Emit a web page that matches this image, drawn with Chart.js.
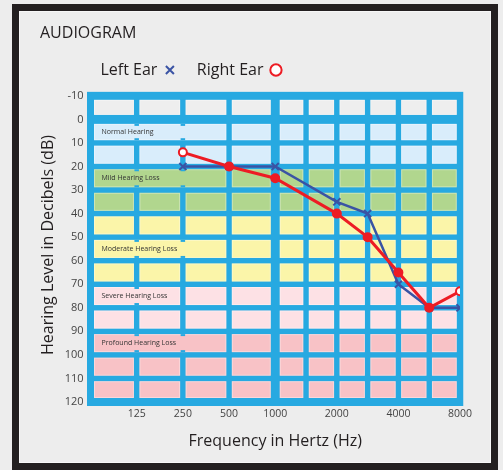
<!DOCTYPE html>
<html>
<head>
<meta charset="utf-8">
<script src="https://cdn.jsdelivr.net/npm/chart.js@4.4.1/dist/chart.umd.min.js"></script>
<style>
  html, body { margin: 0; padding: 0; background: #ededed; }
  #wrap { position: relative; width: 503px; height: 470px; overflow: hidden; }
  #frame {
    position: absolute; left: 12px; top: 4px; width: 472px; height: 452px;
    border: 7px solid #231f20; box-shadow: inset 0 0 0 1px #f7f7f7;
  }
  canvas { position: absolute; left: 0; top: 0; }
</style>
</head>
<body>
<div id="wrap">
  <div id="frame"></div>
  <canvas id="audiogram" width="503" height="470"></canvas>
</div>
<script>
// audiogram grid columns and labelled frequencies
const gridFreqs = [125, 250, 500, 1000, 1500, 2000, 3000, 4000, 6000, 8000];
const labeledFreqs = [125, 250, 500, 1000, 2000, 4000, 8000];
const yTicks = [-10, 0, 10, 20, 30, 40, 50, 60, 70, 80, 90, 100, 110, 120];

// measured thresholds (dB HL)
const testFreqs = [250, 500, 1000, 2000, 3000, 4000, 6000, 8000];
const rightEar = [14, 20, 25, 40, 50, 65, 80, 73];
const leftEar = [20, 20, 20, 35, 40, 70, 80, 80];

// hearing loss bands
const bandNames = ["Normal Hearing", "Mild Hearing Loss", "Moderate Hearing Loss", "Severe Hearing Loss", "Profound Hearing Loss"];
const bandFrom = [0, 20, 40, 70, 90];
const bandTo = [20, 40, 70, 90, 120];
const bandLabelRow = [0, 20, 50, 70, 90];

const bandColors = ["#d9edfb", "#b1d68e", "#fbf5a9", "#fde1e5", "#f8c2c6"];
const bandMergeTo = [500, 500, 500, 250, 500]; // label cell spans up to this grid line
const aboveColor = "#eeeeee";
const gridBlue = "#27a9e1";
const red = "#ed1c24";
const blue = "#3a53a4";
const legendGap = "   ";

// audiogram x layout: octaves below 1 kHz are 1.5 columns wide, one column per step above
function freqPos(f) {
  const i = gridFreqs.indexOf(f);
  return i <= 3 ? i * 1.5 : 4.5 + (i - 3);
}

const gridPlugin = {
  id: "audiogramGrid",
  beforeDatasetsDraw(chart) {
    const { ctx, scales: { x, y } } = chart;
    const xVals = [x.min].concat(gridFreqs.map(freqPos));
    const xs = xVals.map((v) => x.getPixelForValue(v));
    const ys = yTicks.map((v) => y.getPixelForValue(v));
    const nx = xs.length - 1, ny = ys.length - 1;
    const vw = xs.map((_, i) => (i === 0 ? 7 : i === nx ? 6.5 : gridFreqs[i - 1] === 1000 ? 9 : 5.5));
    const hw = yTicks.map((v, j) => (j === 0 || j === ny ? 8 : v === 0 ? 9 : 5.5));

    ctx.save();
    ctx.fillStyle = gridBlue;
    const L = xs[0] - vw[0] / 2, R = xs[nx] + vw[nx] / 2;
    const T = ys[0] - hw[0] / 2, B = ys[ny] + hw[ny] / 2;
    ctx.fillRect(L, T, R - L, B - T);

    for (let j = 0; j < ny; j++) {
      const v = yTicks[j];
      const band = bandFrom.findIndex((f, k) => v >= f && v < bandTo[k]);
      const top = ys[j] + hw[j] / 2;
      const bot = ys[j + 1] - hw[j + 1] / 2;
      const isLabel = band >= 0 && bandLabelRow[band] === v;
      let i = 0;
      while (i < nx) {
        let iEnd = i + 1;
        if (isLabel && i === 0) iEnd = gridFreqs.indexOf(bandMergeTo[band]) + 1;
        const left = xs[i] + vw[i] / 2;
        const right = xs[iEnd] - vw[iEnd] / 2;
        ctx.fillStyle = band >= 0 ? bandColors[band] : aboveColor;
        ctx.fillRect(left, top, right - left, bot - top);
        ctx.strokeStyle = "rgba(255,255,255,0.35)";
        ctx.lineWidth = 1;
        ctx.strokeRect(left + 0.5, top + 0.5, right - left - 1, bot - top - 1);
        // little stubs where hidden lines meet the merged cell
        ctx.fillStyle = gridBlue;
        for (let k = i + 1; k < iEnd; k++) {
          ctx.fillRect(xs[k] - vw[k] / 2 + 0.5, top, vw[k] - 1, 2);
          ctx.fillRect(xs[k] - vw[k] / 2 + 0.5, bot - 2, vw[k] - 1, 2);
        }
        i = iEnd;
      }
      if (isLabel) {
        ctx.fillStyle = "#333";
        ctx.font = "7px 'Open Sans', sans-serif";
        ctx.textAlign = "left";
        ctx.textBaseline = "middle";
        ctx.fillText(bandNames[band], xs[0] + vw[0] / 2 + 7.5, (top + bot) / 2);
      }
    }
    ctx.restore();
  },
};

Chart.defaults.font.family = "'Open Sans', sans-serif";

const ctx = document.getElementById("audiogram").getContext("2d");
const chart_audiogram = new Chart(ctx, {
  type: "line",
  data: {
    datasets: [
      {
        label: "Right Ear",
        data: testFreqs.map((f, i) => ({ x: freqPos(f), y: rightEar[i] })),
        borderColor: red,
        backgroundColor: "#fff",
        borderWidth: 3,
        fill: false,
        pointStyle: "circle",
        pointRadius: 4,
        pointBorderWidth: 2,
        pointBorderColor: red,
        pointBackgroundColor: (c) =>
          c.dataIndex === 0 || c.dataIndex === testFreqs.length - 1 ? "#fff" : red,
      },
      {
        label: "Left Ear",
        data: testFreqs.map((f, i) => ({ x: freqPos(f), y: leftEar[i] })),
        borderColor: blue,
        backgroundColor: blue,
        borderWidth: 2.5,
        fill: false,
        pointStyle: "crossRot",
        pointRadius: 5,
        pointBorderWidth: 2,
        pointBorderColor: blue,
      },
    ],
  },
  options: {
    responsive: false,
    animation: false,
    events: [],
    layout: { padding: { left: 40, right: 43, top: 0, bottom: 18.7 } },
    plugins: {
      tooltip: { enabled: false },
      title: {
        display: true,
        text: "AUDIOGRAM",
        align: "start",
        color: "#231f20",
        font: { size: 16, weight: "normal" },
        padding: { top: 23.4, bottom: 9.4 },
      },
      legend: {
        position: "top",
        fullSize: false,
        align: "end",
        rtl: true, // marker after the text, as on the original
        labels: {
          usePointStyle: true,
          boxWidth: 9,
          boxHeight: 8,
          padding: 10,
          color: "#231f20",
          font: { size: 16 },
          generateLabels(chart) {
            const items = Chart.defaults.plugins.legend.labels.generateLabels(chart);
            items.forEach((it, i) => {
              it.text = (i === 0 ? legendGap : "") + chart.data.datasets[it.datasetIndex].label;
            });
            return items;
          },
        },
      },
    },
    scales: {
      x: {
        type: "linear",
        min: freqPos(125) - 1.5,
        max: freqPos(8000),
        grid: { display: false, drawTicks: false },
        border: { display: false },
        afterBuildTicks: (axis) => {
          axis.ticks = labeledFreqs.map((f) => ({ value: freqPos(f) }));
        },
        ticks: {
          autoSkip: false,
          maxRotation: 0,
          padding: 6,
          color: "#444",
          font: { size: 10.5 },
          callback: (value) => {
            const f = labeledFreqs.find((q) => freqPos(q) === value);
            return f === undefined ? "" : String(f);
          },
        },
        title: {
          display: true,
          text: "Frequency in Hertz (Hz)",
          color: "#231f20",
          font: { size: 16 },
          padding: { top: 5.5, bottom: 0 },
        },
      },
      y: {
        type: "linear",
        reverse: true,
        min: -13.33,
        max: 120,
        grid: { display: false, drawTicks: false },
        border: { display: false },
        afterBuildTicks: (axis) => {
          axis.ticks = yTicks.map((v) => ({ value: v }));
        },
        afterFit: (axis) => {
          axis.width = 50.5;
        },
        ticks: {
          padding: 7,
          color: "#444",
          font: { size: 11 },
        },
        title: {
          display: true,
          text: "Hearing Level in Decibels (dB)",
          color: "#231f20",
          font: { size: 16, lineHeight: 1 },
          padding: 0,
        },
      },
    },
  },
  plugins: [gridPlugin],
});
</script>
</body>
</html>
